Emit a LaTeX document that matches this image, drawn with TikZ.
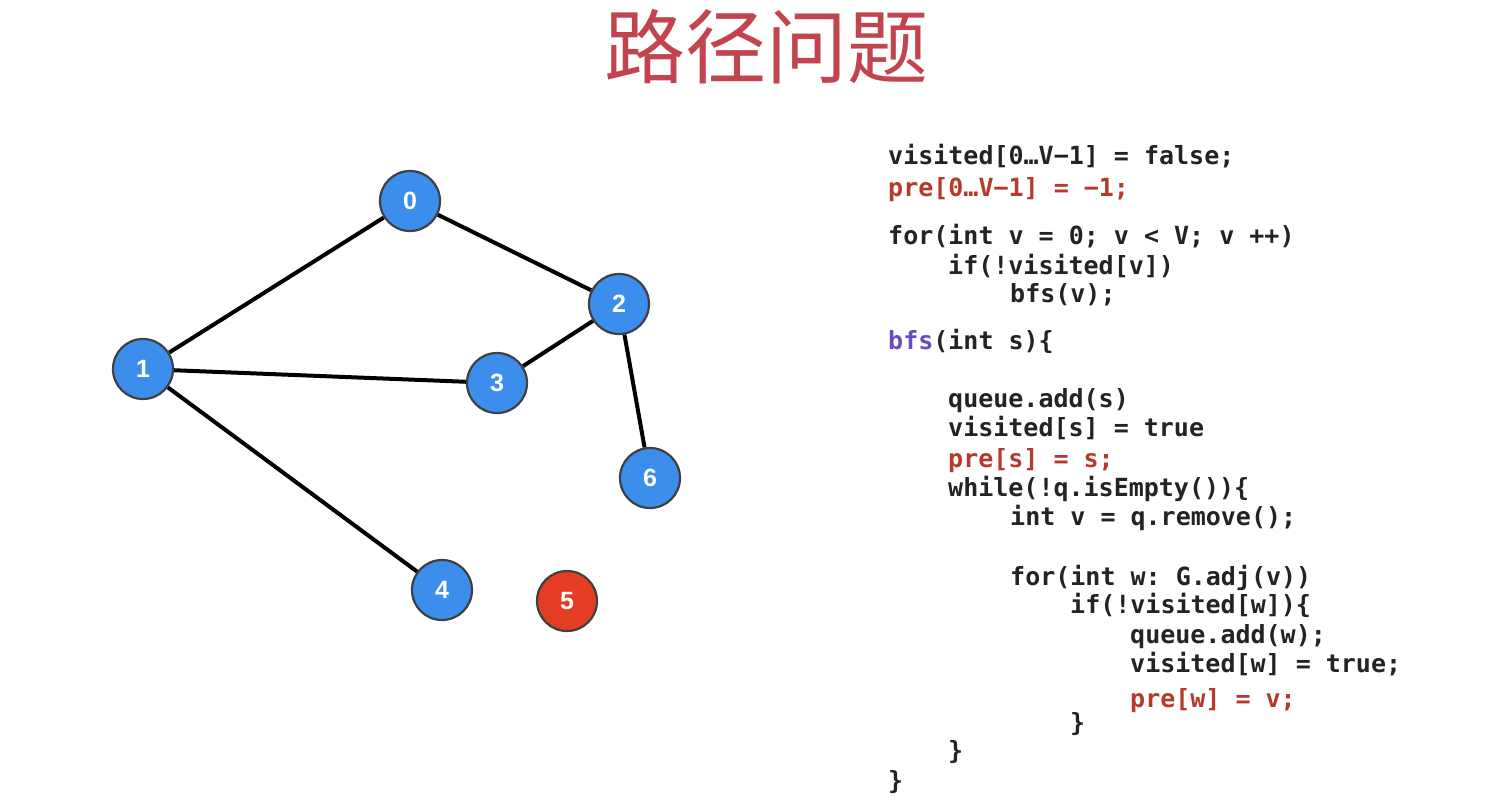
\documentclass[tikz,border=0pt]{standalone}
\usepackage{fontspec}
\setmonofont{DejaVu Sans Mono}
\newfontfamily\cjk{Noto Sans CJK SC}
\newfontfamily\numfont{Liberation Sans}
\usetikzlibrary{positioning}
\definecolor{nodeblue}{HTML}{3C8EEC}
\definecolor{nodered}{HTML}{E53D24}
\definecolor{titlered}{HTML}{C2444F}
\definecolor{codered}{HTML}{B63A2B}
\definecolor{codepurple}{HTML}{6A4CC0}
\definecolor{codeblack}{HTML}{232323}
\tikzstyle{vertex} = [circle, draw=black!75, line width=2.2, fill=nodeblue,
    minimum size=60, inner sep=0, text=white, font=\numfont\bfseries\fontsize{25}{25}\selectfont]
\tikzstyle{code} = [anchor=base west, inner sep=0, text=codeblack,
    font=\ttfamily\bfseries\fontsize{25}{30}\selectfont]
\tikzstyle{edge} = [line width=4, black]

\begin{document}
\begin{tikzpicture}[x=1pt, y=-1pt]
  \useasboundingbox (0,0) rectangle (1493,804);
  % Title
  \node [text=titlered, font=\cjk\fontsize{81}{81}\selectfont] (title) at (766,47) {路径问题};
  % Place vertices
  \node [vertex] (v0) at (410,201) {0};
  \node [vertex] (v1) at (143,369) {1};
  \node [vertex] (v2) at (619,304) {2};
  \node [vertex] (v3) at (497,383) {3};
  \node [vertex] (v4) at (442,590) {4};
  \node [vertex, fill=nodered] (v5) at (567,601) {5};
  \node [vertex] (v6) at (650,478) {6};
  % Draw edges
  \draw [edge] (v0) -- (v1);
  \draw [edge] (v0) -- (v2);
  \draw [edge] (v1) -- (v3);
  \draw [edge] (v2) -- (v3);
  \draw [edge] (v2) -- (v6);
  \draw [edge] (v1) -- (v4);
  % Place code lines
  \node [code] (init) at (888,164) {visited[0…V−1] = false;};
  \node [code, text=codered] (initpre) at (888,196) {pre[0…V−1] = −1;};
  \node [code] (loop) at (888,244) {for(int v = 0; v < V; v ++)};
  \node [code] (test) at (948,274) {if(!visited[v])};
  \node [code] (call) at (1010,302) {bfs(v);};
  \node [code] (head) at (888,349) {\textcolor{codepurple}{bfs}(int s)\{};
  \node [code] (add) at (948,407) {queue.add(s)};
  \node [code] (mark) at (948,436) {visited[s] = true};
  \node [code, text=codered] (pres) at (948,467) {pre[s] = s;};
  \node [code] (while) at (948,496) {while(!q.isEmpty())\{};
  \node [code] (pop) at (1010,525) {int v = q.remove();};
  \node [code] (adj) at (1010,585) {for(int w: G.adj(v))};
  \node [code] (testw) at (1070,613) {if(!visited[w])\{};
  \node [code] (addw) at (1130,643) {queue.add(w);};
  \node [code] (markw) at (1130,672) {visited[w] = true;};
  \node [code, text=codered] (prew) at (1130,707) {pre[w] = v;};
  \node [code] (close1) at (1070,731) {\}};
  \node [code] (close2) at (948,759) {\}};
  \node [code] (close3) at (888,789) {\}};
\end{tikzpicture}
\end{document}
